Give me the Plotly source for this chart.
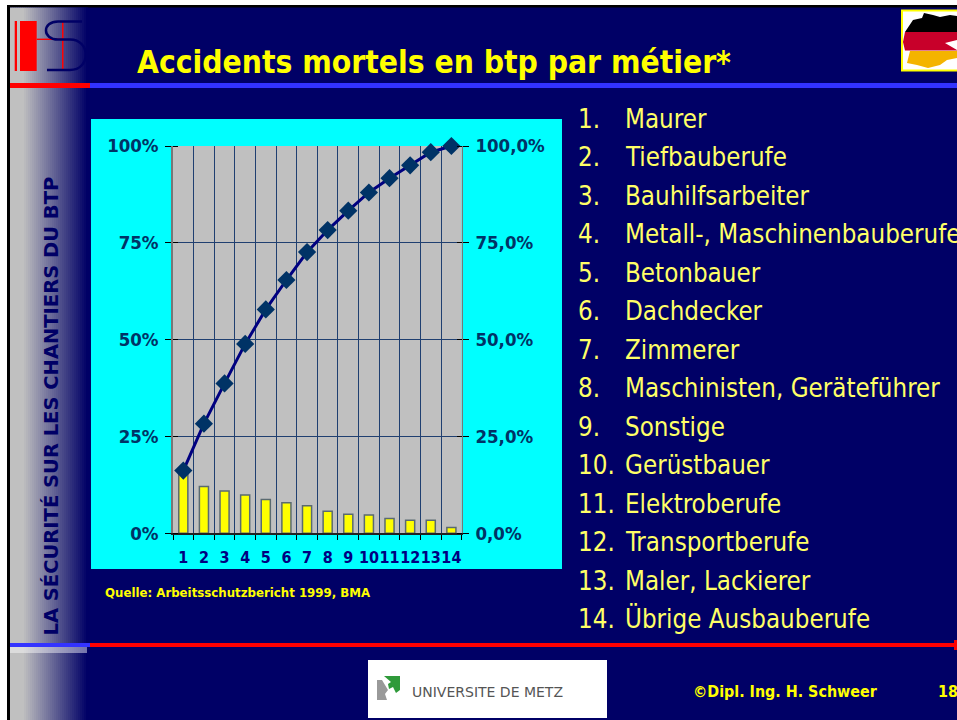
import plotly.graph_objects as go

W, H = 957, 720
categories = ["1","2","3","4","5","6","7","8","9","10","11","12","13","14"]
bar_values = [16.2,12.1,10.9,9.9,8.7,7.9,7.1,5.7,4.9,4.7,3.8,3.4,3.4,1.5]
cumulative = [16.2,28.3,38.7,48.9,57.8,65.4,72.6,78.3,83.3,88.0,91.7,95.0,98.4,100.0]
tick_vals = [0,25,50,75,100]
left_ticks = ["0%","25%","50%","75%","100%"]
right_ticks = ["0,0%","25,0%","50,0%","75,0%","100,0%"]
trades = ["Maurer","Tiefbauberufe","Bauhilfsarbeiter","Metall-, Maschinenbauberufe","Betonbauer",
          "Dachdecker","Zimmerer","Maschinisten, Geräteführer","Sonstige","Gerüstbauer",
          "Elektroberufe","Transportberufe","Maler, Lackierer","Übrige Ausbauberufe"]

NAVY = "#000066"; TICK = "#003366"; GRID = "#1f3f70"
COND = "'DejaVu Sans Condensed','DejaVu Sans',sans-serif"
BOLD = "'DejaVu Sans',sans-serif"

px = lambda x: x / W
py = lambda y: 1 - y / H

shapes, annotations = [], []

def rect(x0, y0, x1, y1, fill, line=None, lw=0):
    shapes.append(dict(type="rect", xref="paper", yref="paper", x0=px(x0), x1=px(x1), y0=py(y1), y1=py(y0),
                       fillcolor=fill, line=dict(color=line or fill, width=lw), layer="below"))

def path(cmds, fill=None, line=None, lw=0):
    out = []
    for c in cmds:
        if isinstance(c, str):
            out.append(c)
        else:
            out.append(f"{px(c[0]):.5f},{py(c[1]):.5f}")
    shapes.append(dict(type="path", xref="paper", yref="paper", path=" ".join(out),
                       fillcolor=fill or "rgba(0,0,0,0)", line=dict(color=line or "rgba(0,0,0,0)", width=lw), layer="below"))

def poly(points, fill):
    cmds = ["M", points[0]]
    for p in points[1:]:
        cmds += ["L", p]
    cmds.append("Z")
    path(cmds, fill=fill)

def text(x, y, s, size, color, family=COND, bold=False, anchor="left", angle=0, yanchor="middle"):
    annotations.append(dict(xref="paper", yref="paper", x=px(x), y=py(y), text=f"<b>{s}</b>" if bold else s,
                            showarrow=False, xanchor=anchor, yanchor=yanchor, textangle=angle,
                            font=dict(size=size, color=color, family=family), borderpad=0, borderwidth=0))

# page frame
rect(0, 0, W, H, NAVY)
rect(0, 0, W, 5, "#ffffff")
rect(0, 0, 7, H, "#ffffff")
rect(7, 5, W, 7.5, "#000000")
rect(7, 5, 10, H, "#000000")

# left gradient band
start, stop, gx0 = (192, 192, 192), (0, 0, 102), 10
n = 39
for i in range(n):
    x0 = gx0 + i * 2
    t = max(0, (i - 6) / (n - 7))
    c = tuple(round(a + (b - a) * t) for a, b in zip(start, stop))
    rect(x0, 7.5, x0 + 2.2, H, f"rgb{c}")

# rules
rect(10, 83, 90, 88, "#ff0000")
rect(90, 83, W, 88, "#3333ff")
rect(10, 643, 90, 647, "#3333ff")
rect(90, 643, W, 647, "#ff0000")
rect(10, 647, 87, 653, "rgba(255,255,255,0.45)")
rect(954, 640, W, 650, "#ff0000")

# HS logo
rect(14.7, 21, 17, 71, "#ff0000")
rect(20, 21, 36.7, 71, "#ff0000")
rect(36.7, 38.6, 62, 40, "#ff0000")
rect(62, 21, 63.5, 70, "#ff0000")
path(["M", (82, 21.5), "L", (58, 21.5), "C", (42, 21.5), (42, 39.5), (58, 39.5), "L", (70, 39.5),
      "C", (91, 39.5), (91, 70), (70, 70), "L", (47, 70)], line=NAVY, lw=2.5)

# German flag badge
rect(901, 9.5, W, 71.5, "#ffff00")
rect(903, 11.5, W, 69.5, "#ffffff")
poly([(924,13),(933,15),(940,17),(950,15),(957,16),(957,32),(905,32),(913,20),(922,18)], "#000000")
poly([(905,32),(957,32),(957,40),(945,43),(957,50),(957,50.5),(905,50.5),(903,42)], "#c8002a")
poly([(910,51),(957,51),(957,58),(947,60),(940,65),(928,68),(917,65),(907,63)], "#f4b400")

# chart panel
rect(91, 119, 562, 569, "#00ffff")
rect(173, 146, 461.7, 533.3, "#c0c0c0")

# university logo
rect(368, 660, 607, 718, "#ffffff")
poly([(377,680),(382,680),(385,685),(388,690),(385,694),(387,700),(377,700)], "#999999")
poly([(384,676),(400,676),(400,690),(396,693),(393,687),(389,689),(388,684),(391,682)], "#2f9a3a")
text(412, 692, "UNIVERSITE DE METZ", 14, "#555555", family=BOLD)

# text
text(137, 62, "Accidents mortels en btp par métier*", 31.5, "#ffff00", bold=True, family=COND)
text(50.5, 406, "LA SÉCURITÉ SUR LES CHANTIERS DU BTP", 19.5, NAVY, bold=True, family=BOLD, anchor="center", angle=-90)
text(105, 592, "Quelle: Arbeitsschutzbericht 1999, BMA", 13.1, "#ffff00", bold=True)
text(693, 691, "©Dipl. Ing. H. Schweer", 15.9, "#ffff00", bold=True)
text(938, 691, "18", 15.9, "#ffff00", bold=True)
for i, name in enumerate(trades):
    y = 119 + i * 38.46
    text(578, y, f"{i+1}.", 25.7, "#ffff66")
    text(625, y, name, 25.7, "#ffff66")

fig = go.Figure()
fig.add_trace(go.Bar(x=categories, y=bar_values, marker=dict(color="#ffff00", line=dict(color="#5a6a70", width=1.5)),
                     width=0.44, yaxis="y", showlegend=False))
fig.add_trace(go.Scatter(x=categories, y=cumulative, mode="lines+markers", yaxis="y2", cliponaxis=False, showlegend=False,
                         line=dict(color="#000080", width=3),
                         marker=dict(symbol="diamond", size=14, color=TICK, line=dict(width=0))))

tickfont = dict(size=18.5, color=TICK, family=COND, weight="bold")
inner = dict(tickvals=tick_vals, ticks="inside", ticklen=5, tickcolor="#000000", showgrid=False)
fig.update_layout(
    width=W, height=H, autosize=False, margin=dict(l=0, r=0, t=0, b=0, autoexpand=False),
    paper_bgcolor=NAVY, plot_bgcolor="#c0c0c0", showlegend=False,
    shapes=shapes, annotations=annotations,
    xaxis=dict(domain=[px(173), px(461.7)], type="category", range=[-0.5, 13.5], tickson="boundaries", dtick=1,
               showgrid=True, gridcolor=GRID, gridwidth=1,
               ticks="outside", ticklen=5, tickcolor="#000000", linecolor="#222222", linewidth=1.5, showline=True,
               tickfont=dict(size=16, color="#000080", family=COND, weight="bold"), fixedrange=True, zeroline=False, tickangle=0,
               ticklabelstandoff=9),
    yaxis=dict(domain=[py(533.3), py(146)], range=[0, 100], tickvals=tick_vals, ticktext=left_ticks, side="left",
               showgrid=True, gridcolor=GRID, gridwidth=1, ticks="outside", ticklen=6, tickcolor="#000000",
               linecolor="#777777", linewidth=1.5, showline=True, tickfont=tickfont, zeroline=False,
               ticklabelstandoff=3, minor=inner),
    yaxis2=dict(overlaying="y", side="right", range=[0, 100], tickvals=tick_vals, ticktext=right_ticks,
                showgrid=False, ticks="outside", ticklen=6, tickcolor="#000000", linecolor="#777777", linewidth=1,
                showline=True, tickfont=tickfont, zeroline=False, ticklabelstandoff=3, minor=inner),
)

fig.write_html("out.html", config=dict(displayModeBar=False),
               post_script="document.body.style.margin='0';document.documentElement.style.overflow='hidden';")
